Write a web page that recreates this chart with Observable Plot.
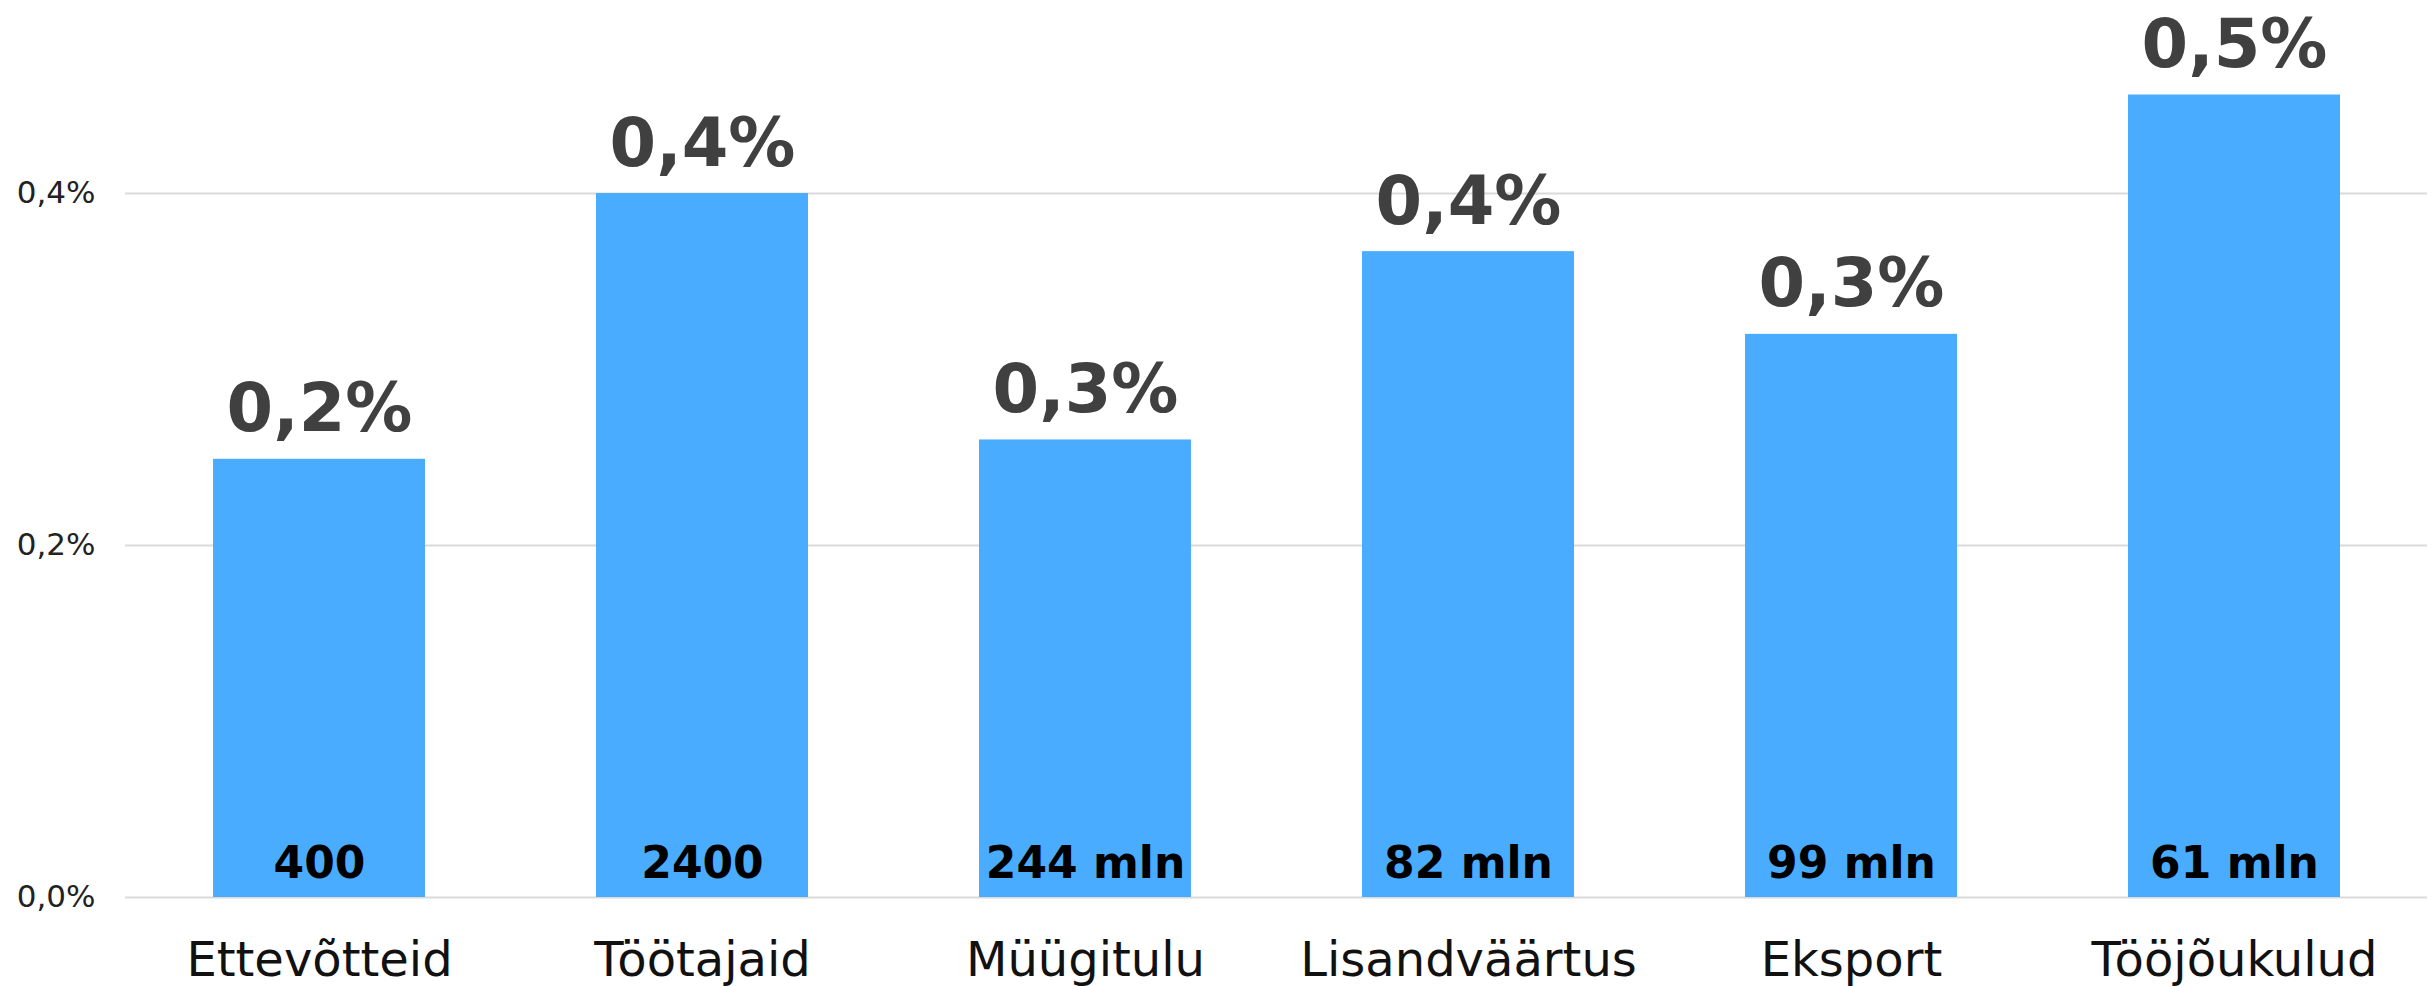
<!DOCTYPE html>
<html>
<head>
<meta charset="utf-8">
<script src="https://cdn.jsdelivr.net/npm/d3@7"></script>
<script src="https://cdn.jsdelivr.net/npm/@observablehq/plot@0.6"></script>
<style>
  html, body { margin: 0; padding: 0; background: #fff; }
  #chart svg { display: block; }
</style>
</head>
<body>
<div id="chart"></div>
<script>
const categories = ["Ettevõtteid", "Töötajaid", "Müügitulu", "Lisandväärtus", "Eksport", "Tööjõukulud"];
const shares = [0.249, 0.400, 0.260, 0.367, 0.320, 0.456];
const shareLabels = ["0,2%", "0,4%", "0,3%", "0,4%", "0,3%", "0,5%"];
const amountLabels = ["400", "2400", "244 mln", "82 mln", "99 mln", "61 mln"];
const yTicks = [0, 0.2, 0.4];

const data = categories.map((c, i) => ({
  category: c,
  share: shares[i],
  shareLabel: shareLabels[i],
  amountLabel: amountLabels[i]
}));

const fmt = d => d.toFixed(1).replace(".", ",") + "%";

const chart = Plot.plot({
  width: 2435,
  height: 986,
  marginTop: 0,
  marginBottom: 89,
  marginLeft: 125,
  marginRight: 8,
  style: { fontFamily: "DejaVu Sans", background: "#fff" },
  x: { domain: categories, paddingInner: 0.447, paddingOuter: 0.2235, label: null },
  y: { domain: [0, 0.5097], label: null },
  marks: [
    Plot.gridY(yTicks, { stroke: "#d9d9d9", strokeOpacity: 1, strokeWidth: 2 }),
    Plot.barY(data, { x: "category", y: "share", fill: "#4aacff" }),
    Plot.axisY(yTicks, {
      tickSize: 0, tickPadding: 30, tickFormat: fmt,
      fontSize: 31, fill: "#222", label: null,
      fontFamily: "DejaVu Sans"
    }),
    Plot.axisX({
      tickSize: 0, tickPadding: 44, fontSize: 48, fill: "#111",
      label: null, fontFamily: "DejaVu Sans"
    }),
    Plot.text(data, {
      x: "category", y: "share", text: "shareLabel",
      dy: -28, lineAnchor: "bottom",
      fontSize: 67, fontWeight: "bold", fill: "#404040",
      fontFamily: "DejaVu Sans"
    }),
    Plot.text(data, {
      x: "category", y: () => 0, text: "amountLabel",
      dy: -20, lineAnchor: "bottom",
      fontSize: 44, fontWeight: "bold", fill: "#000",
      fontFamily: "DejaVu Sans"
    })
  ]
});

document.getElementById("chart").appendChild(chart);
</script>
</body>
</html>
